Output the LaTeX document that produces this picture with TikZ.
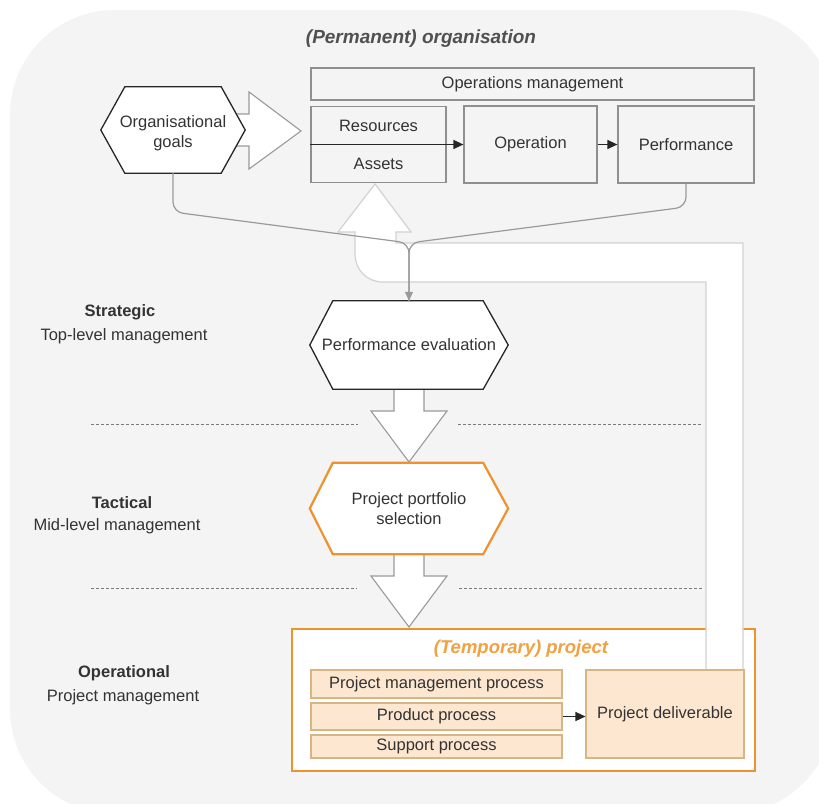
\documentclass[tikz,border=0pt]{standalone}
\usepackage{fontspec}
\setmainfont{Liberation Sans}
\usetikzlibrary{arrows.meta,calc}
\definecolor{bgc}{HTML}{F4F4F4}
\definecolor{txt}{HTML}{333333}
\definecolor{ttl}{HTML}{505050}
\definecolor{boxln}{HTML}{8F8F8F}
\definecolor{conn}{HTML}{9A9A9A}
\definecolor{orng}{HTML}{F0922B}
\definecolor{orngt}{HTML}{F1A13F}
\definecolor{peach}{HTML}{FDE7D1}
\definecolor{peachln}{HTML}{D8B585}
\definecolor{bandln}{HTML}{D2D2D2}
\definecolor{dashc}{HTML}{7A7A7A}
\begin{document}
\begin{tikzpicture}[x=1pt,y=-1pt,
  every node/.style={font=\fontsize{16.5}{19.5}\selectfont, text=txt},
  opbox/.style={draw=boxln, line width=1.2pt, fill=bgc, inner sep=0pt},
  hexnode/.style={inner sep=0pt, align=center},
  hexdraw/.style={draw=black!85, line width=1.3pt, fill=white},
  hexorange/.style={draw=orng, line width=2.2pt, fill=white},
  blockarrow/.style={draw=conn, line width=1.1pt, fill=white, line join=miter},
  connector/.style={draw=conn, line width=1.2pt, rounded corners=10pt},
  darrow/.style={draw=black!85, line width=1.4pt, -{Triangle[length=10pt,width=9pt]}},
  sepline/.style={draw=dashc, line width=1pt, dash pattern=on 3pt off 2pt},
  lvlbold/.style={font=\fontsize{16.5}{19.5}\selectfont\bfseries},
  pbox/.style={draw=peachln, line width=1.1pt, fill=peach, inner sep=0pt},
]
\useasboundingbox (0,0) rectangle (819,803);
\fill[white] (0,0) rectangle (819,803);
\begin{scope}
  \clip (0,0) rectangle (819,803);
  \fill[bgc, rounded corners=105pt] (10,10) rectangle (834,814);
\end{scope}

% separators
\draw[sepline] (91,424) -- (358,424);
\draw[sepline] (458,424) -- (702,424);
\draw[sepline] (91,588) -- (357,588);
\draw[sepline] (459,588) -- (702,588);

% title
\node[font=\fontsize{19}{22}\selectfont\bfseries\itshape, text=ttl] (title) at (421,39) {(Permanent) organisation};

% project container
\node[draw=orng, line width=2.2pt, fill=white, minimum width=463pt, minimum height=142pt, inner sep=0pt] (proj) at (523.5,700) {};
\node[font=\fontsize{18.5}{21}\selectfont\bfseries\itshape, text=orngt] (projtitle) at (521,649) {(Temporary) project};

% feedback band
\draw[draw=bandln, line width=1.2pt, fill=white, line join=miter]
  (743,670) -- (743,243) -- (396,243) -- (396,232) -- (411,232) -- (375,184)
  -- (338,232) -- (355,232) -- (355,254) .. controls (355,270) and (367,282) .. (383,282)
  -- (706,282) -- (706,670) -- cycle;

% block arrow goals -> resources
\draw[blockarrow] (220,114) -- (249,114) -- (249,92) -- (301,131) -- (249,169) -- (249,146) -- (220,146) -- cycle;

% organisational goals hexagon
\node[hexnode, minimum width=144pt, minimum height=86pt] (goals) at (173,130) {};
\draw[hexdraw] (goals.west) -- ([xshift=24pt]goals.north west) -- ([xshift=-24pt]goals.north east) -- (goals.east)
  -- ([xshift=-24pt]goals.south east) -- ([xshift=24pt]goals.south west) -- cycle;
\node[hexnode] (goalstext) at ([yshift=-3pt]goals.center) {Organisational\\goals};

% operations boxes
\node[opbox, minimum width=443pt, minimum height=32pt] (om) at (532.5,84) {Operations management};
\node[opbox, minimum width=135pt, minimum height=76pt] (ra) at (378.5,144.5) {};
\node (res) at (378.5,126) {Resources};
\node (ast) at (378.5,164) {Assets};
\node[opbox, minimum width=133pt, minimum height=77pt] (op) at (530.5,144.5) {Operation};
\node[opbox, minimum width=136pt, minimum height=77pt] (perf) at (686,144.5) {Performance};
\draw[darrow] (ra.west) -- (ra.west -| op.west);
\draw[darrow] (op.east) -- (op.east -| perf.west);

% down block arrows
\draw[blockarrow] (394,380) -- (394,411) -- (371,411) -- (409,462) -- (447,411) -- (424,411) -- (424,380) -- cycle;
\draw[blockarrow] (394,545) -- (394,576) -- (371,576) -- (409,627) -- (447,576) -- (424,576) -- (424,545) -- cycle;

% performance evaluation hexagon
\node[hexnode, minimum width=198pt, minimum height=88pt] (pe) at (409,345) {};
\draw[hexdraw] (pe.west) -- ([xshift=23pt]pe.north west) -- ([xshift=-25pt]pe.north east) -- (pe.east)
  -- ([xshift=-25pt]pe.south east) -- ([xshift=23pt]pe.south west) -- cycle;
\node[hexnode] (petext) at (pe.center) {Performance evaluation};

% portfolio hexagon
\node[hexnode, minimum width=198pt, minimum height=91pt] (pps) at (409,508.5) {};
\draw[hexorange] (pps.west) -- ([xshift=23pt]pps.north west) -- ([xshift=-25pt]pps.north east) -- (pps.east)
  -- ([xshift=-25pt]pps.south east) -- ([xshift=23pt]pps.south west) -- cycle;
\node[hexnode] (ppstext) at (pps.center) {Project portfolio\\selection};

% connectors into performance evaluation
\coordinate (merge) at (409,243);
\draw[connector] (goals.south) -- (173,212) -- (merge) -- (pe.north);
\draw[connector, -{Triangle[length=9pt,width=8pt]}] (perf.south) -- (686,207) -- (merge) -- (pe.north);

% level labels
\node[lvlbold] (strat) at (120,312) {Strategic};
\node (stratsub) at (124,336) {Top-level management};
\node[lvlbold] (tact) at (122,503) {Tactical};
\node (tactsub) at (117,526) {Mid-level management};
\node[lvlbold] (oper) at (124,673) {Operational};
\node (opersub) at (123,697) {Project management};

% project inner boxes
\node[pbox, minimum width=251pt, minimum height=28pt] (pmp) at (436.5,684) {Project management process};
\node[pbox, minimum width=251pt, minimum height=27pt] (pp) at (436.5,716.5) {Product process};
\node[pbox, minimum width=251pt, minimum height=23pt] (sp) at (436.5,746.5) {Support process};
\node[pbox, minimum width=158pt, minimum height=88pt] (pd) at (665,714) {Project deliverable};
\draw[darrow] (pp.east) -- (pp.east -| pd.west);
\end{tikzpicture}
\end{document}
